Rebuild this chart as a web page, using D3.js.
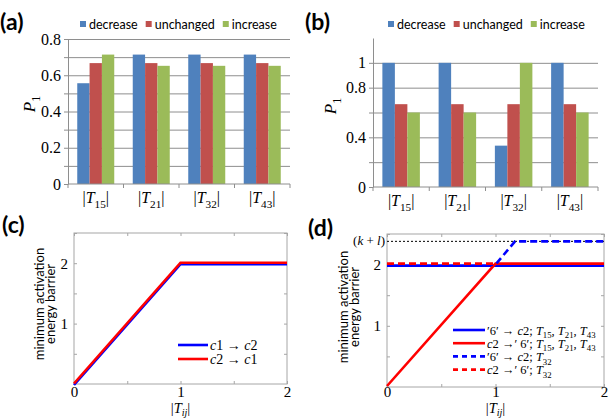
<!DOCTYPE html>
<html>
<head>
<meta charset="utf-8">
<script src="https://cdn.jsdelivr.net/npm/d3@7"></script>
<style>
  body { margin: 0; background: #fff; }
</style>
</head>
<body>
<svg id="fig" width="613" height="419"></svg>
<script>
// ---- data ----
const categories = ["15", "21", "32", "43"];          // subscripts of |T_ij|
const seriesNames = ["decrease", "unchanged", "increase"];
const seriesColors = ["#4f81bd", "#c0504d", "#9bbb59"];

// panel (a)
const aDecrease  = [0.556, 0.714, 0.714, 0.714];
const aUnchanged = [0.667, 0.667, 0.667, 0.667];
const aIncrease  = [0.714, 0.652, 0.652, 0.652];
const aGrid   = [0.1, 0.2, 0.3, 0.4, 0.5, 0.6, 0.7, 0.8];
const aLabels = [0, 0.2, 0.4, 0.6, 0.8];

// panel (b)
const bDecrease  = [1, 1, 0.333, 1];
const bUnchanged = [0.667, 0.667, 0.667, 0.667];
const bIncrease  = [0.6, 0.6, 1, 0.6];
const bGrid   = [0.2, 0.4, 0.6, 0.8, 1];
const bLabels = [0, 0.4, 0.8, 1];

// panel (c)
const cC1toC2 = [[0, 0], [1, 2], [2, 2]];
const cC2toC1 = [[0, 0], [1, 2], [2, 2]];

// panel (d)
const kPlusL = 2.38;
const dSixToC2      = [[0, 2], [2, 2]];
const dC2ToSix      = [[0, 0], [1, 2], [2, 2]];
const dSixToC2T32   = [[0, 2], [1, 2], [1.18, kPlusL], [2, kPlusL]];
const dC2ToSixT32   = [[0, 2], [1, 2]];

const lineTicks = [0, 0.5, 1, 1.5, 2, 2.5];

const svg = d3.select("#fig");
const sans = "Lato, 'Liberation Sans', sans-serif";
const serif = "'Liberation Serif', 'DejaVu Serif', serif";

// append math-ish text made of parts: [text, kind] kind = n | i | sub
function mathText(sel, parts, fs, ratio) {
  const shift = fs * (ratio || 0.3);
  let down = false;
  parts.forEach(([t, k]) => {
    const ts = sel.append("tspan").text(t);
    if (k === "i") ts.style("font-style", "italic");
    if (k === "sub") {
      ts.style("font-size", (fs * 0.7) + "px");
      if (!down) { ts.attr("dy", shift); down = true; }
    } else if (down) {
      ts.attr("dy", -shift); down = false;
    }
  });
  return sel;
}

function panelLabel(txt, x, y) {
  svg.append("text").attr("x", x).attr("y", y)
    .style("font-family", sans).style("font-weight", "bold").style("font-size", "23px")
    .text(txt);
}

// ---- bar panels ----
function barPanel(o) {
  const g = svg.append("g");
  const y = d3.scaleLinear().domain(o.domain).range([o.bottom, o.top]);
  const x0 = d3.scaleBand().domain(categories).range([o.left, o.right]);
  const x1 = d3.scaleBand().domain(seriesNames).range([0, x0.bandwidth()])
    .paddingInner(0).paddingOuter(0.75);

  // gridlines
  g.append("g")
    .attr("transform", `translate(${o.left},0)`)
    .call(d3.axisLeft(y).tickValues(o.grid).tickSize(-(o.right - o.left)).tickFormat(""))
    .call(s => s.select(".domain").remove())
    .selectAll("line").attr("stroke", "#8e8e8e");

  // bars
  const rows = [];
  categories.forEach((c, i) => seriesNames.forEach((s, j) => rows.push({ c, s, j, v: o.values[j][i] })));
  g.selectAll("rect.bar").data(rows).join("rect")
    .attr("class", "bar")
    .attr("x", d => x0(d.c) + x1(d.s))
    .attr("width", x1.bandwidth())
    .attr("y", d => y(d.v))
    .attr("height", d => y(0) - y(d.v))
    .attr("fill", d => seriesColors[d.j]);

  // y axis
  const yAx = g.append("g")
    .attr("transform", `translate(${o.left},0)`)
    .call(d3.axisLeft(y).tickValues([0].concat(o.grid)).tickSize(4).tickSizeOuter(0).tickPadding(3)
      .tickFormat(d => o.labels.some(l => Math.abs(l - d) < 1e-9) ? String(+d.toFixed(1)) : ""));
  yAx.select(".domain").attr("stroke", "#8e8e8e");
  yAx.selectAll("line").attr("stroke", "#8e8e8e");
  yAx.selectAll("text").style("font-family", serif).style("font-size", "16px").attr("fill", "#000");

  // x axis with ticks at category boundaries
  const bounds = categories.map(c => x0(c)).concat([o.right]);
  g.append("line").attr("x1", o.left).attr("x2", o.right).attr("y1", y(0)).attr("y2", y(0))
    .attr("stroke", "#8e8e8e");
  g.selectAll("line.xt").data(bounds).join("line").attr("class", "xt")
    .attr("x1", d => d).attr("x2", d => d).attr("y1", y(0)).attr("y2", y(0) + 4)
    .attr("stroke", "#8e8e8e");
  categories.forEach(c => {
    const t = g.append("text").attr("x", x0(c) + x0.bandwidth() / 2).attr("y", y(0) + 19)
      .attr("text-anchor", "middle").style("font-family", serif).style("font-size", "16px");
    mathText(t, [["|", "n"], ["T", "i"], [c, "sub"], ["|", "n"]], 16);
  });

  // y label P1
  const yl = g.append("text")
    .attr("transform", `translate(${o.ylabX},${o.ylabY}) rotate(-90)`)
    .attr("text-anchor", "middle").style("font-family", serif).style("font-size", "17px");
  mathText(yl, [["P", "i"], ["1", "sub"]], 17);

  // legend
  let lx = o.legX;
  seriesNames.forEach((s, j) => {
    g.append("rect").attr("x", lx).attr("y", o.legY - 3).attr("width", 6).attr("height", 6)
      .attr("fill", seriesColors[j]);
    const t = g.append("text").attr("x", lx + 9).attr("y", o.legY + 4.5)
      .style("font-family", sans).style("font-size", "12.5px").text(s);
    lx += 9 + t.node().getComputedTextLength() + 8;
  });
}

barPanel({
  left: 68, right: 290, top: 39, bottom: 184, domain: [0, 0.8],
  grid: aGrid, labels: aLabels, values: [aDecrease, aUnchanged, aIncrease],
  ylabX: 35, ylabY: 104, legX: 80, legY: 24
});
barPanel({
  left: 373, right: 598, top: 38, bottom: 187, domain: [0, 1.2],
  grid: bGrid, labels: bLabels, values: [bDecrease, bUnchanged, bIncrease],
  ylabX: 336, ylabY: 106, legX: 388, legY: 24
});

// ---- line panels ----
function linePanel(o) {
  const g = svg.append("g");
  const x = d3.scaleLinear().domain([0, 2]).range([o.left, o.right]);
  const y = d3.scaleLinear().domain([0, 2.5]).range([o.bottom, o.top]);
  const gray = "#a6a6a6";

  g.append("rect").attr("x", o.left).attr("y", o.top)
    .attr("width", o.right - o.left).attr("height", o.bottom - o.top)
    .attr("fill", "none").attr("stroke", gray);

  const style = s => {
    s.select(".domain").remove();
    s.selectAll("line").attr("stroke", gray);
    s.selectAll("text").style("font-family", serif).style("font-size", "15px").attr("fill", "#000");
  };
  g.append("g").attr("transform", `translate(0,${o.bottom})`)
    .call(d3.axisBottom(x).tickValues(lineTicks.slice(0, 5)).tickSize(-3).tickPadding(o.xPad)
      .tickFormat(d => d % 1 === 0 ? d : "")).call(style);
  g.append("g").attr("transform", `translate(0,${o.top})`)
    .call(d3.axisTop(x).tickValues(lineTicks.slice(0, 5)).tickSize(-3).tickFormat("")).call(style);
  g.append("g").attr("transform", `translate(${o.left},0)`)
    .call(d3.axisLeft(y).tickValues(lineTicks.slice(1)).tickSize(-3).tickPadding(6)
      .tickFormat(d => d % 1 === 0 ? d : "")).call(style);
  g.append("g").attr("transform", `translate(${o.right},0)`)
    .call(d3.axisRight(y).tickValues(lineTicks.slice(1)).tickSize(-3).tickFormat("")).call(style);

  // x label |T_ij|
  const xl = g.append("text").attr("x", x(1)).attr("y", o.xlabY)
    .attr("text-anchor", "middle").style("font-family", serif).style("font-size", "14.5px");
  mathText(xl, [["|", "n"], ["T", "i"], ["ij", "sub"], ["|", "n"]], 14.5, 0.2);
  xl.selectAll("tspan").filter((d, i) => i === 2).style("font-style", "italic");

  // y label (two lines)
  const yl = g.append("text")
    .attr("transform", `translate(${o.ylabX},${o.ylabY}) rotate(-90)`)
    .attr("text-anchor", "middle").style("font-family", sans).style("font-size", "13px");
  yl.append("tspan").attr("x", 0).attr("dy", 0).text("minimum activation");
  yl.append("tspan").attr("x", 0).attr("dy", 11).text("energy barrier");

  if (o.before) o.before(g, x, y);

  const line = d3.line().x(d => x(d[0])).y(d => y(d[1]));
  const plot = g.append("g");
  o.series.forEach(s => {
    plot.append("path").datum(s.data).attr("d", line)
      .attr("transform", `translate(0,${s.shift || 0})`)
      .attr("fill", "none").attr("stroke", s.color).attr("stroke-width", 2.6)
      .attr("stroke-dasharray", s.dash || null);
  });

  // legend
  o.series.forEach((s, i) => {
    if (!s.label) return;
    const ly = o.legY + i * o.legStep;
    g.append("line").attr("x1", o.legX).attr("x2", o.legX + o.legLen).attr("y1", ly).attr("y2", ly)
      .attr("stroke", s.color).attr("stroke-width", 2.6).attr("stroke-dasharray", s.dash ? "5,4" : null);
    const t = g.append("text").attr("x", o.legX + o.legLen + 2).attr("y", ly + 4.5)
      .style("font-family", serif).style("font-size", o.legFont + "px");
    mathText(t, s.label, o.legFont);
  });
  return { g, x, y };
}

panelLabel("(a)", 0, 30);
panelLabel("(b)", 305, 30);
panelLabel("(c)", 2, 233);
panelLabel("(d)", 308, 236);

linePanel({
  left: 74, right: 287, top: 233, bottom: 384, ylabX: 44, ylabY: 304, xlabY: 413, xPad: 2,
  legX: 178, legY: 345, legStep: 14, legLen: 30, legFont: 14,
  series: [
    { data: cC1toC2, color: "#0000ff", shift: 1, label: [["c", "i"], ["1 → ", "n"], ["c", "i"], ["2", "n"]] },
    { data: cC2toC1, color: "#ff0000", shift: -0.5, label: [["c", "i"], ["2 → ", "n"], ["c", "i"], ["1", "n"]] }
  ]
});

linePanel({
  left: 387, right: 604, top: 234, bottom: 387, ylabX: 348, ylabY: 307, xlabY: 413, xPad: -1,
  legX: 453, legY: 330, legStep: 13.2, legLen: 32, legFont: 12.5,
  before: (g, x, y) => {
    // (k+l) reference level
    g.append("line")
      .attr("x1", x(0)).attr("x2", x(2)).attr("y1", y(kPlusL)).attr("y2", y(kPlusL))
      .attr("stroke", "#000").attr("stroke-width", 1).attr("stroke-dasharray", "2,2");
    const kl = g.append("text").attr("x", x(0) - 2).attr("y", y(kPlusL) + 4)
      .attr("text-anchor", "end").style("font-family", serif).style("font-size", "13px");
    mathText(kl, [["(", "n"], ["k", "i"], [" + ", "n"], ["l", "i"], [")", "n"]], 13);
  },
  series: [
    { data: dSixToC2, color: "#0000ff", shift: 1,
      label: [["′6′ → ", "n"], ["c", "i"], ["2; ", "n"], ["T", "i"], ["15", "sub"], [", ", "n"], ["T", "i"], ["21", "sub"], [", ", "n"], ["T", "i"], ["43", "sub"]] },
    { data: dC2ToSix, color: "#ff0000", shift: -1,
      label: [["c", "i"], ["2 →′ 6′; ", "n"], ["T", "i"], ["15", "sub"], [", ", "n"], ["T", "i"], ["21", "sub"], [", ", "n"], ["T", "i"], ["43", "sub"]] },
    { data: dSixToC2T32, color: "#0000ff", dash: "7,4",
      label: [["′6′ → ", "n"], ["c", "i"], ["2; ", "n"], ["T", "i"], ["32", "sub"]] },
    { data: dC2ToSixT32, color: "#ff0000", dash: "7,4", shift: -1,
      label: [["c", "i"], ["2 →′ 6′; ", "n"], ["T", "i"], ["32", "sub"]] }
  ]
});
</script>
</body>
</html>
